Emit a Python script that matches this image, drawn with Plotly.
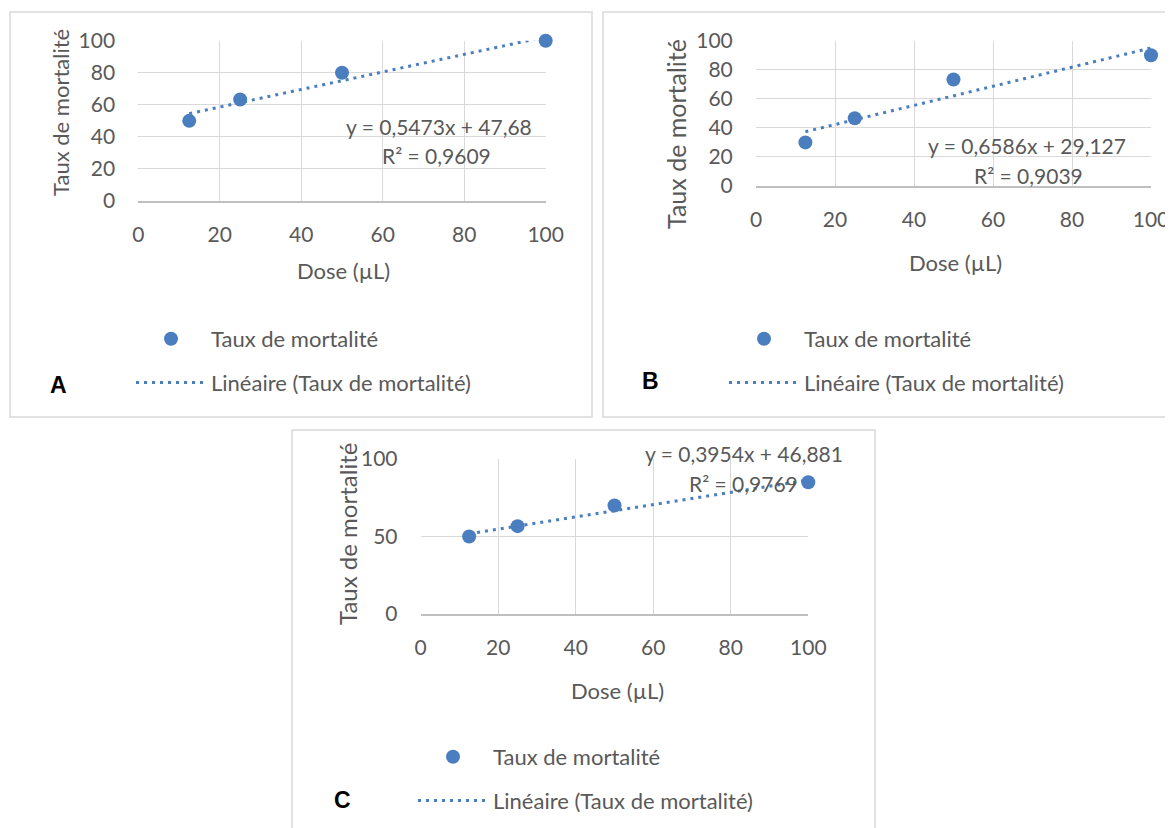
import plotly.graph_objects as go

W, H = 1173, 828
OFF = 8  # page body margin of the html page

# ---- data ----
dose = [12.5, 25, 50, 100]
mort_A = [50, 63.33, 80, 100]
mort_B = [30, 46.67, 73.33, 90]
mort_C = [50, 56.67, 70, 85]

slope_A, intercept_A = 0.5473, 47.68
slope_B, intercept_B = 0.6586, 29.127
slope_C, intercept_C = 0.3954, 46.881

eq_A, r2_A = "y = 0,5473x + 47,68", "R² = 0,9609"
eq_B, r2_B = "y = 0,6586x + 29,127", "R² = 0,9039"
eq_C, r2_C = "y = 0,3954x + 46,881", "R² = 0,9769"

x_ticks = [0, 20, 40, 60, 80, 100]
y_ticks_AB = [0, 20, 40, 60, 80, 100]
y_ticks_C = [0, 50, 100]

series_name = "Taux de mortalité"
trend_name = "Linéaire (Taux de mortalité)"
x_title = "Dose (µL)"
y_title = "Taux de mortalité"

# ---- style ----
BLUE = "#4a7ebf"
GREY_TXT = "#595959"
GRID = "#d9d9d9"
FONT = "Lato"


def px(x):
    return (x - OFF) / W


def py(y):
    return 1 - (y - OFF) / H


fig = go.Figure()

panels = [
    dict(key="", ys=mort_A, m=slope_A, b=intercept_A, leg="legend",
         xd=(138.3, 545.7), yd=(201, 40.7), yt=y_ticks_AB, box=(10, 12, 592, 417),
         eq=eq_A, r2=r2_A, eqpos=(534, 127), r2pos=(493, 155),
         xt=(343, 270), ytp=(60, 113), ytsize=22, letter="A", letpos=(58, 385), legy=318),
    dict(key="2", ys=mort_B, m=slope_B, b=intercept_B, leg="legend2",
         xd=(756, 1151), yd=(186, 40.7), yt=y_ticks_AB, box=(603, 12, 1190, 417),
         eq=eq_B, r2=r2_B, eqpos=(1128, 146), r2pos=(1085, 175),
         xt=(955, 262), ytp=(676, 134), ytsize=25, letter="B", letpos=(650, 381), legy=318),
    dict(key="3", ys=mort_C, m=slope_C, b=intercept_C, leg="legend3",
         xd=(420.7, 808.3), yd=(614, 459), yt=y_ticks_C, box=(292, 430, 875, 850),
         eq=eq_C, r2=r2_C, eqpos=(845, 453), r2pos=(800, 483),
         xt=(617, 690), ytp=(347, 534), ytsize=24, letter="C", letpos=(342, 800), legy=736),
]

annotations = []
shapes = []
layout = {}

for p in panels:
    k = p["key"]
    xa = "x" + k
    ya = "y" + k
    trend_x = [dose[0], dose[-1]]
    trend_y = [p["m"] * v + p["b"] for v in trend_x]

    fig.add_trace(go.Scatter(
        x=dose, y=p["ys"], mode="markers", name=series_name,
        marker=dict(color=BLUE, size=14), xaxis=xa, yaxis=ya,
        legend=p["leg"], legendgroup="m" + k, cliponaxis=False))
    fig.add_trace(go.Scatter(
        x=trend_x, y=trend_y, mode="lines", name=trend_name,
        line=dict(color=BLUE, width=3, dash="3px,5px"), xaxis=xa, yaxis=ya,
        legend=p["leg"], legendgroup="t" + k, cliponaxis=False))

    layout["xaxis" + k] = dict(
        domain=[px(p["xd"][0]), px(p["xd"][1])], range=[0, 100], anchor=ya,
        tickvals=x_ticks, showgrid=True, gridcolor=GRID, gridwidth=1.3,
        zeroline=False, showline=True, linecolor="#bfbfbf", linewidth=1.5,
        ticks="outside", ticklen=14, tickcolor="rgba(0,0,0,0)", automargin=False,
        tickfont=dict(family=FONT, size=21, color=GREY_TXT), fixedrange=True)
    layout["yaxis" + k] = dict(
        domain=[py(p["yd"][0]), py(p["yd"][1])], range=[0, 100], anchor=xa,
        tickvals=p["yt"], showgrid=True, gridcolor=GRID, gridwidth=1.3,
        zeroline=False, showline=False, automargin=False,
        ticks="outside", ticklen=18, tickcolor="rgba(0,0,0,0)",
        tickfont=dict(family=FONT, size=21, color=GREY_TXT), fixedrange=True)

    bx0, by0, bx1, by1 = p["box"]
    shapes.append(dict(type="rect", xref="paper", yref="paper",
                       x0=px(bx0), x1=px(bx1), y0=py(by1), y1=py(by0),
                       line=dict(color="#d9d9d9", width=1.5), layer="below"))

    annotations += [
        dict(text=p["eq"], x=px(p["eqpos"][0]), y=py(p["eqpos"][1]), xref="paper", yref="paper",
             xanchor="right", yanchor="middle", showarrow=False,
             font=dict(family=FONT, size=21, color=GREY_TXT)),
        dict(text=p["r2"], x=px(p["r2pos"][0]), y=py(p["r2pos"][1]), xref="paper", yref="paper",
             xanchor="right", yanchor="middle", showarrow=False,
             font=dict(family=FONT, size=21, color=GREY_TXT)),
        dict(text=x_title, x=px(p["xt"][0]), y=py(p["xt"][1]), xref="paper", yref="paper",
             xanchor="center", yanchor="middle", showarrow=False,
             font=dict(family=FONT, size=22, color=GREY_TXT)),
        dict(text=y_title, x=px(p["ytp"][0]), y=py(p["ytp"][1]), xref="paper", yref="paper",
             xanchor="center", yanchor="middle", showarrow=False, textangle=-90,
             font=dict(family=FONT, size=p["ytsize"], color=GREY_TXT)),
        dict(text="<b>" + p["letter"] + "</b>", x=px(p["letpos"][0]), y=py(p["letpos"][1]),
             xref="paper", yref="paper", xanchor="center", yanchor="middle", showarrow=False,
             font=dict(family="Liberation Sans", size=23, color="#000000")),
    ]

    legkey = p["leg"]
    layout[legkey] = dict(
        x=px(bx0 + 121), y=py(p["legy"]), xanchor="left", yanchor="top",
        font=dict(family=FONT, size=22, color=GREY_TXT),
        bgcolor="rgba(0,0,0,0)", tracegroupgap=12, itemwidth=70,
        traceorder="grouped")

fig.update_layout(
    width=W, height=H, margin=dict(l=0, r=0, t=0, b=0, autoexpand=False),
    paper_bgcolor="white", plot_bgcolor="white",
    showlegend=True, annotations=annotations, shapes=shapes,
    **layout)

fig.write_html("out.html")
